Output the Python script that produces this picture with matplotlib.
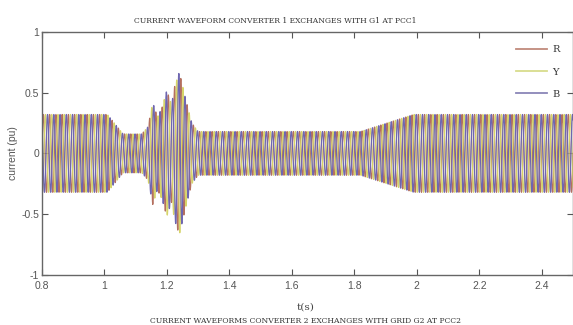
import matplotlib
matplotlib.use('Agg')
import matplotlib.pyplot as plt
import numpy as np

# envelope of the phase currents (pu)
env_t = [0.8, 1.0, 1.01, 1.06, 1.12, 1.14, 1.155, 1.17, 1.185, 1.2, 1.215,
         1.225, 1.24, 1.26, 1.28, 1.3, 1.82, 1.99, 2.5]
env_amp = [0.32, 0.32, 0.32, 0.16, 0.16, 0.22, 0.42, 0.30, 0.38, 0.52, 0.40,
           0.55, 0.67, 0.45, 0.25, 0.18, 0.18, 0.32, 0.32]
freq_hz = 50
phases = ['R', 'Y', 'B']
phase_shift_deg = [0, -120, 120]
colors = ['#b4705f', '#d6d46a', '#6e66b0']
legend_colors = ['#c08a7c', '#d8dc8c', '#8a86b8']

x_ticks = [0.8, 1, 1.2, 1.4, 1.6, 1.8, 2, 2.2, 2.4]
x_tick_labels = ['0.8', '1', '1.2', '1.4', '1.6', '1.8', '2', '2.2', '2.4']
y_ticks = [-1, -0.5, 0, 0.5, 1]
y_tick_labels = ['-1', '-0.5', '0', '0.5', '1']

t = np.linspace(0.8, 2.5, 20000)
amp = np.interp(t, env_t, env_amp)

fig = plt.figure(figsize=(5.73, 3.25), dpi=100)
ax = fig.add_axes([0.073, 0.154, 0.927, 0.748])

for name, shift, c in zip(phases, phase_shift_deg, colors):
    i = amp * np.sin(2 * np.pi * freq_hz * t + np.deg2rad(shift))
    ax.plot(t, i, color=c, lw=0.9, label=name)

ax.set_xlim(0.8, 2.5)
ax.set_ylim(-1, 1)
ax.set_xticks(x_ticks)
ax.set_xticklabels(x_tick_labels)
ax.set_yticks(y_ticks)
ax.set_yticklabels(y_tick_labels)
ax.tick_params(direction='in', top=True, right=True, length=4, width=0.8,
               color='#555555', labelsize=7.5, labelcolor='#555555', pad=2)
ax.tick_params(axis='x', pad=4)
for lab in ax.get_xticklabels() + ax.get_yticklabels():
    lab.set_family('Liberation Sans')
for s in ax.spines.values():
    s.set_color('#666666')
    s.set_linewidth(1.0)

ax.set_ylabel('current (pu)', fontsize=7.5, color='#555555', labelpad=6,
              family='Liberation Sans')
ax.yaxis.set_label_coords(-0.045, 0.5)
fig.text(0.533, 0.047, 't(s)', fontsize=7.5, color='#444444', ha='center',
         family='serif')
fig.text(0.48, 0.93, 'CURRENT WAVEFORM CONVERTER 1 EXCHANGES WITH G1 AT PCC1',
         fontsize=5.5, ha='center', family='serif', color='#333333')
fig.text(0.533, 0.005, 'CURRENT WAVEFORMS CONVERTER 2 EXCHANGES WITH GRID G2 AT PCC2',
         fontsize=5.5, ha='center', family='serif', color='#333333')

leg = ax.legend(loc='upper right', frameon=False, fontsize=7, handlelength=3.2,
                borderaxespad=1.0, labelspacing=1.35, handletextpad=0.5)
for line, c in zip(leg.get_lines(), legend_colors):
    line.set_linewidth(1.3)
    line.set_color(c)
for txt in leg.get_texts():
    txt.set_family('serif')
    txt.set_color('#333333')

fig.savefig('out.png', dpi=100)
